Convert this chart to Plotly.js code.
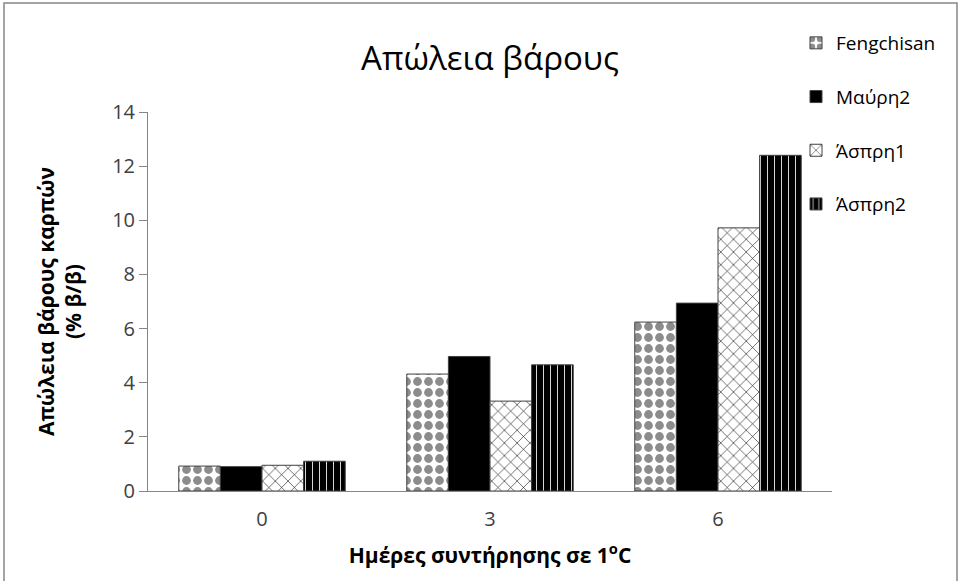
<!DOCTYPE html>
<html>
<head>
<meta charset="utf-8">
<script src="https://cdn.plot.ly/plotly-3.0.1.min.js"></script>
<style>html,body{margin:0;padding:0;background:#fff;}#chart{width:960px;height:581px;}</style>
</head>
<body>
<div id="chart"></div>
<script>
const days = ['0', '3', '6'];
const seriesNames = ['Fengchisan', 'Μαύρη2', 'Άσπρη1', 'Άσπρη2'];
const fengchisan = [0.92, 4.32, 6.24];
const mavri2 = [0.90, 4.97, 6.94];
const aspri1 = [0.95, 3.32, 9.72];
const aspri2 = [1.10, 4.66, 12.40];
const yTicks = [0, 2, 4, 6, 8, 10, 12, 14];

const values = [fengchisan, mavri2, aspri1, aspri2];
const styles = [
  {color: '#ffffff', pattern: {shape: '.', fgcolor: '#8c8c8c', bgcolor: '#ffffff', size: 11, solidity: 0.5, fillmode: 'replace'}},
  {color: '#000000'},
  {color: '#ffffff', pattern: {shape: 'x', fgcolor: '#000000', bgcolor: '#ffffff', size: 9, solidity: 0.12, fillmode: 'replace'}},
  {color: '#000000', pattern: {shape: '|', fgcolor: '#ffffff', bgcolor: '#000000', size: 7, solidity: 0.12, fillmode: 'replace'}}
];

const font = "'Open Sans', 'Noto Sans', sans-serif";
const traces = seriesNames.map((n, i) => {
  const m = {color: styles[i].color, line: {color: '#404040', width: 1}};
  if (styles[i].pattern) m.pattern = styles[i].pattern;
  return {type: 'bar', name: n, x: days, y: values[i], marker: m, legendgroup: 'g' + i, hoverinfo: 'x+y+name'};
});

const L = 148, R = 832, T = 112, B = 491;
const px = v => (v - L) / (R - L);
const py = v => (B - v) / (B - T);

const layout = {
  width: 960, height: 581,
  margin: {l: L, r: 960 - R, t: T, b: 581 - B},
  paper_bgcolor: '#ffffff', plot_bgcolor: '#ffffff',
  font: {family: font, color: '#000'},
  barmode: 'group', bargap: 0.27, bargroupgap: 0,
  title: {text: 'Απώλεια βάρους', font: {family: font, size: 33, color: '#000'}, x: px(490), xanchor: 'center', xref: 'paper', y: 1 - 58 / 581, yanchor: 'middle'},
  xaxis: {
    type: 'category', showline: true, linecolor: '#868686', linewidth: 1,
    ticks: '', showgrid: false, zeroline: false, ticklabelstandoff: 10,
    tickfont: {family: font, size: 20, color: '#404040'},
    title: {text: '<b>Ημέρες συντήρησης σε 1<sup>o</sup>C</b>', font: {family: font, size: 21, color: '#000'}, standoff: 17}
  },
  yaxis: {
    range: [0, 14], tickvals: yTicks, showline: true, linecolor: '#868686', linewidth: 1,
    ticks: 'outside', ticklen: 8, tickcolor: '#868686', showgrid: false, zeroline: false,
    tickfont: {family: font, size: 20, color: '#404040'},
    title: {text: '<b>Απώλεια βάρους καρπών<br>(% β/β)</b>', font: {family: font, size: 21, color: '#000'}, standoff: 24}
  },
  legend: {
    x: px(796), xanchor: 'left', y: py(24), yanchor: 'top',
    font: {family: font, size: 19, color: '#000'},
    tracegroupgap: 26, bgcolor: 'rgba(0,0,0,0)', traceorder: 'grouped'
  },
  shapes: [{
    type: 'rect', xref: 'paper', yref: 'paper', layer: 'above',
    x0: px(4), x1: px(957), y0: py(3), y1: py(600),
    line: {color: '#868686', width: 1.5}, fillcolor: 'rgba(0,0,0,0)'
  }]
};

Plotly.newPlot('chart', traces, layout, {displayModeBar: false, staticPlot: true});
</script>
</body>
</html>
